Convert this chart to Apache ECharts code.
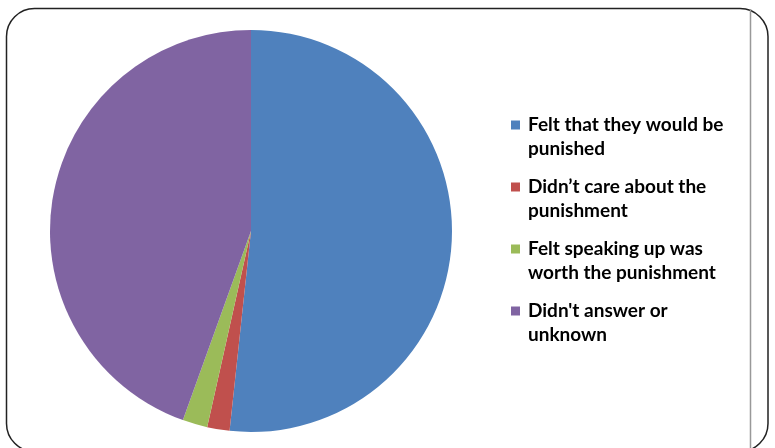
<!DOCTYPE html>
<html>
<head>
<meta charset="utf-8">
<script src="https://cdn.jsdelivr.net/npm/echarts@6/dist/echarts.min.js"></script>
<style>html,body{margin:0;padding:0;background:#fff;}#chart{width:775px;height:448px;}</style>
</head>
<body>
<div id="chart"></div>
<script>
const categories = [
  "Felt that they would be\npunished",
  "Didn\u2019t care about the\npunishment",
  "Felt speaking up was\nworth the punishment",
  "Didn't answer or\nunknown"
];
const values = [51.7, 1.8, 2.0, 44.5];
const colors = ["#4F81BD", "#C0504D", "#9BBB59", "#8064A2"];

const chart = echarts.init(document.getElementById('chart'), null, {renderer: 'canvas'});
chart.setOption({
  animation: false,
  backgroundColor: '#ffffff',
  color: colors,
  graphic: [
    {type: 'rect', shape: {x: 6.5, y: 8.5, width: 761.5, height: 443, r: 28},
     style: {fill: 'none', stroke: '#222', lineWidth: 1.5}, z: 10},
    {type: 'line', shape: {x1: 750.5, y1: 9, x2: 750.5, y2: 448},
     style: {stroke: '#999', lineWidth: 1.5}, z: 10}
  ],
  legend: {
    orient: 'vertical',
    left: 511,
    top: 89,
    padding: 0,
    itemWidth: 9,
    itemHeight: 9,
    itemGap: -10,
    icon: 'rect',
    selectedMode: false,
    formatter: function (name) { return '\n' + name; },
    textStyle: {
      fontFamily: 'Lato',
      fontSize: 19,
      fontWeight: 'bold',
      color: '#000',
      lineHeight: 24,
      padding: [0, 0, 0, 3]
    },
    data: categories
  },
  series: [{
    type: 'pie',
    center: [251, 231],
    radius: 201,
    startAngle: 90,
    clockwise: true,
    label: {show: false},
    labelLine: {show: false},
    silent: true,
    itemStyle: {borderWidth: 0},
    data: categories.map((c, i) => ({name: c, value: values[i]}))
  }]
});
</script>
</body>
</html>
